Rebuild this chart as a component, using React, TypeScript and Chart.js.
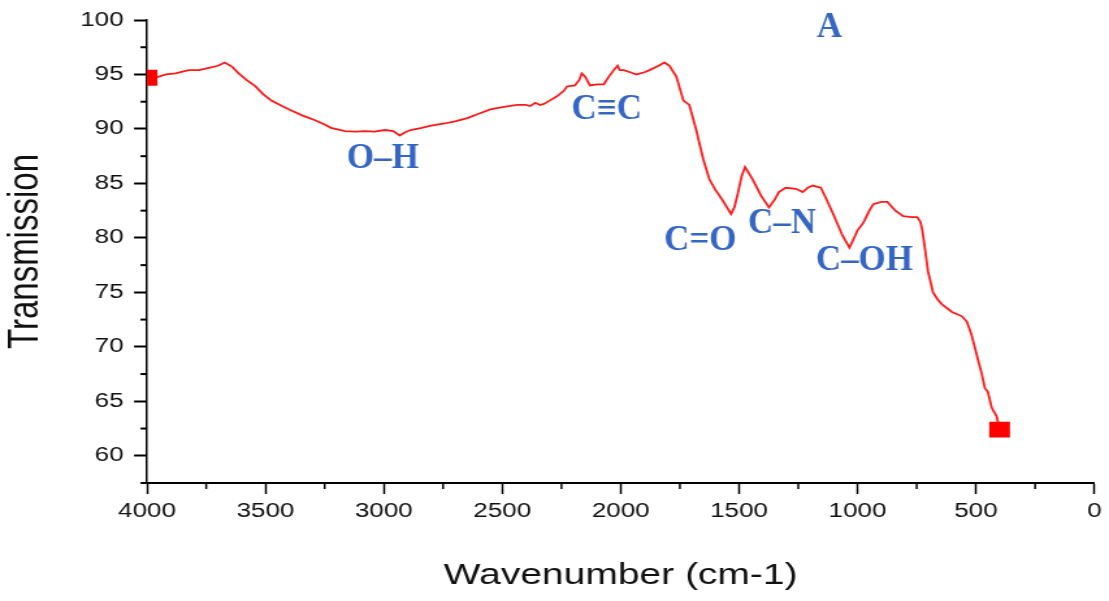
import React, { useEffect, useRef } from 'react';
import { Chart, registerables } from 'chart.js';

Chart.register(...registerables);

// horizontal stretch of the reference picture
const STRETCH = 1.3;
const CSS_W = 1109;
const CSS_H = 601;
const W = Math.round(CSS_W / STRETCH);

const wavenumbers = [
  4000, 3990, 3950, 3920, 3880, 3824, 3780, 3739, 3700, 3672, 3640, 3613, 3580, 3542, 3510, 3475,
  3430, 3391, 3340, 3290, 3250, 3223, 3164, 3120, 3080, 3040, 2996, 2960, 2933, 2910, 2887, 2840,
  2800, 2744, 2700, 2647, 2600, 2550, 2500, 2437, 2400, 2382, 2361, 2340, 2324, 2300, 2269, 2240,
  2227, 2193, 2175, 2164, 2150, 2130, 2100, 2071, 2050, 2029, 2013, 2004, 1987, 1960, 1933, 1900,
  1878, 1840, 1815, 1794, 1765, 1735, 1710, 1681, 1651, 1626, 1600, 1571, 1534, 1520, 1504, 1490,
  1475, 1460, 1441, 1408, 1374, 1350, 1332, 1303, 1260, 1231, 1210, 1189, 1155, 1130, 1105, 1063,
  1034, 1010, 1000, 975, 950, 933, 900, 874, 840, 807, 770, 748, 735, 727, 715, 702,
  681, 660, 643, 601, 559, 538, 520, 504, 490, 475, 462, 450, 433, 412, 400,
];

const transmission = [
  94.7, 94.6, 94.8, 95.0, 95.1, 95.4, 95.4, 95.6, 95.8, 96.1, 95.7, 95.1, 94.5, 93.9, 93.2, 92.6,
  92.1, 91.7, 91.2, 90.8, 90.4, 90.1, 89.8, 89.75, 89.8, 89.75, 89.9, 89.8, 89.4, 89.7, 89.9, 90.1,
  90.3, 90.5, 90.7, 91.0, 91.4, 91.8, 92.0, 92.2, 92.2, 92.1, 92.4, 92.2, 92.3, 92.6, 93.0, 93.5,
  93.9, 94.0, 94.5, 95.1, 94.8, 94.0, 94.1, 94.1, 94.8, 95.4, 95.8, 95.4, 95.4, 95.2, 95.0, 95.2,
  95.4, 95.8, 96.1, 95.8, 94.8, 92.6, 92.2, 89.9, 87.2, 85.4, 84.4, 83.5, 82.2, 82.8, 84.2, 85.6,
  86.5, 86.0, 85.3, 83.9, 82.8, 83.5, 84.2, 84.6, 84.5, 84.2, 84.6, 84.8, 84.6, 83.5, 82.3, 80.2,
  79.1, 80.2, 80.7, 81.4, 82.5, 83.1, 83.3, 83.3, 82.5, 82.0, 81.9, 81.9, 81.5, 80.8, 79.0, 76.9,
  75.0, 74.3, 73.9, 73.2, 72.8, 72.3, 71.2, 69.9, 68.7, 67.5, 66.2, 65.9, 64.4, 63.6, 62.4,
];

const yMinorTicks = [57.5, 62.5, 67.5, 72.5, 77.5, 82.5, 87.5, 92.5, 97.5];
const xMinorTicks = [250, 750, 1250, 1750, 2250, 2750, 3250, 3750];

const annotationLabels = ['O\u2013H', 'C\u2261C', 'C=O', 'C\u2013N', 'C\u2013OH', 'A'];
const annotationWavenumbers = [3004, 2059, 1664, 1319, 971, 1118];
const annotationValues = [87.2, 91.7, 79.7, 81.3, 77.9, 99.3];

const SANS = '"Liberation Sans", Arial, sans-serif';
const SERIF = '"Liberation Serif", "Times New Roman", serif';

const minorTicksPlugin = {
  id: 'minorTicks',
  afterDraw(chart: any) {
    const { ctx, chartArea, scales } = chart;
    const x = scales.x;
    const y = scales.y;
    ctx.save();
    ctx.strokeStyle = '#000';
    ctx.lineWidth = 2;
    for (const v of yMinorTicks) {
      const py = y.getPixelForValue(v);
      ctx.beginPath();
      ctx.moveTo(chartArea.left - 5, py);
      ctx.lineTo(chartArea.left, py);
      ctx.stroke();
    }
    ctx.lineWidth = 1.5;
    for (const v of xMinorTicks) {
      const px = x.getPixelForValue(v);
      ctx.beginPath();
      ctx.moveTo(px, chartArea.bottom);
      ctx.lineTo(px, chartArea.bottom + 6);
      ctx.stroke();
    }
    ctx.restore();
  },
};

const annotationsPlugin = {
  id: 'bandLabels',
  afterDatasetsDraw(chart: any) {
    const { ctx, scales } = chart;
    ctx.save();
    ctx.fillStyle = '#3566c4';
    ctx.font = `bold 35px ${SERIF}`;
    ctx.textAlign = 'center';
    ctx.textBaseline = 'middle';
    annotationLabels.forEach((label, i) => {
      const px = scales.x.getPixelForValue(annotationWavenumbers[i]);
      const py = scales.y.getPixelForValue(annotationValues[i]);
      ctx.save();
      ctx.translate(px, py);
      ctx.scale(1 / STRETCH, 1);
      ctx.fillText(label, 0, 0);
      ctx.restore();
    });
    ctx.restore();
  },
};

export default function App() {
  const canvasRef = useRef<HTMLCanvasElement | null>(null);

  useEffect(() => {
    const canvas = canvasRef.current;
    if (!canvas) return;
    const lastIndex = wavenumbers.length - 1;
    const chart = new Chart(canvas, {
      type: 'line',
      data: {
        datasets: [
          {
            data: wavenumbers.map((w, i) => ({ x: w, y: transmission[i] })),
            borderColor: '#ff1a1a',
            borderWidth: 1.8,
            backgroundColor: '#ff0000',
            pointStyle: 'rect',
            pointRadius: (ctx: any) => (ctx.dataIndex === 0 || ctx.dataIndex === lastIndex ? 11.3 : 0),
            pointBorderWidth: 0,
            pointBackgroundColor: '#ff0000',
            pointHoverRadius: 0,
            tension: 0,
            fill: false,
            clip: 0,
          } as any,
        ],
      },
      options: {
        animation: false,
        responsive: false,
        devicePixelRatio: 1,
        events: [],
        layout: { padding: { left: 0, top: 16, right: W - 1100 / STRETCH, bottom: 0 } },
        plugins: { legend: { display: false }, tooltip: { enabled: false } },
        scales: {
          x: {
            type: 'linear',
            reverse: true,
            min: 0,
            max: 4000,
            afterFit: (scale: any) => {
              scale.height = CSS_H - 483;
            },
            border: { display: true, color: '#000', width: 2 },
            grid: { drawOnChartArea: false, drawTicks: true, tickLength: 11, tickColor: '#000', tickWidth: 1.5 },
            ticks: {
              stepSize: 500,
              color: '#111',
              padding: 5,
              maxRotation: 0,
              font: { family: SANS, size: 20 },
              callback: (v: any) => String(v),
            },
            title: {
              display: true,
              text: 'Wavenumber (cm-1)',
              color: '#111',
              font: { family: SANS, size: 30 },
              padding: { top: 0, bottom: 7 },
            },
          },
          y: {
            type: 'linear',
            min: 57.5,
            max: 100,
            afterFit: (scale: any) => {
              scale.width = 147 / STRETCH;
            },
            border: { display: true, color: '#000', width: 1.5 },
            grid: { drawOnChartArea: false, drawTicks: true, tickLength: 10, tickColor: '#000', tickWidth: 2 },
            ticks: {
              stepSize: 5,
              includeBounds: false,
              color: '#111',
              padding: 8,
              font: { family: SANS, size: 20 },
              callback: (v: any) => String(v),
            },
            title: {
              display: true,
              text: 'Transmission',
              color: '#111',
              font: { family: SANS, size: 33 },
              padding: { top: 0, bottom: 0 },
            },
          },
        },
      },
      plugins: [minorTicksPlugin, annotationsPlugin],
    } as any);
    return () => chart.destroy();
  }, []);

  return (
    <div style={{ position: 'fixed', left: 0, top: 0, width: CSS_W, height: CSS_H, background: '#fff' }}>
      <canvas
        ref={canvasRef}
        width={W}
        height={CSS_H}
        style={{ display: 'block', width: `${CSS_W}px`, height: `${CSS_H}px` }}
      />
    </div>
  );
}
